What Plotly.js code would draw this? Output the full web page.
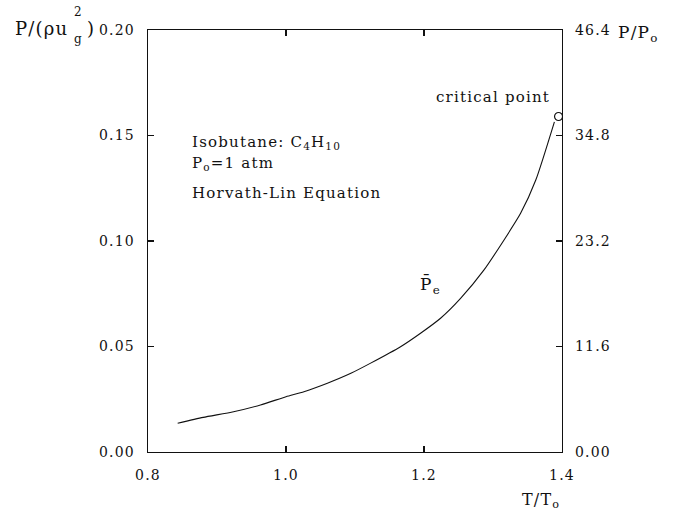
<!DOCTYPE html>
<html>
<head>
<meta charset="utf-8">
<script src="https://cdn.plot.ly/plotly-3.0.1.min.js"></script>
<style>
  html, body { margin: 0; padding: 0; background: #fff; }
  #chart { width: 679px; height: 512px; }
  svg text { letter-spacing: 1.2px; }
</style>
</head>
<body>
<div id="chart"></div>
<script>
// Reduced temperature T/To
const tempRatio = [0.843, 0.880, 0.924, 0.963, 1.000, 1.026, 1.060, 1.094, 1.122,
                   1.166, 1.195, 1.224, 1.253, 1.287, 1.316, 1.340, 1.362, 1.389];
// Equilibrium vapour pressure  P / (rho u_g^2)
const pressure = [0.0136, 0.0164, 0.0191, 0.0223, 0.0262, 0.0286, 0.0326, 0.0373, 0.0420,
                  0.0499, 0.0563, 0.0634, 0.0728, 0.0863, 0.1005, 0.1131, 0.1289, 0.1565];
// Critical point of isobutane
const criticalT = [1.395];
const criticalP = [0.159];

// Axis ticks
const xTicks = [0.8, 1.0, 1.2, 1.4];
const xTickText = ['0.8', '1.0', '1.2', '1.4'];
const yTicks = [0, 0.05, 0.10, 0.15, 0.20];
const yTickText = ['0.00', '0.05', '0.10', '0.15', '0.20'];
const y2Ticks = [0, 11.6, 23.2, 34.8, 46.4];
const y2TickText = ['0.00', '11.6', '23.2', '34.8', '46.4'];

const FONT = 'DejaVu Serif, serif';
const INK = '#111';

// plot-area geometry in pixels, for placing free text
const L = 148, R = 562, T = 30, B = 452;
const px = x => (x - L) / (R - L);
const py = y => (B - y) / (B - T);

function note(text, x, y, size, anchor) {
  return {
    text: text, xref: 'paper', yref: 'paper', x: px(x), y: py(y),
    xanchor: anchor || 'left', yanchor: 'middle', showarrow: false,
    borderpad: 0,
    font: { family: FONT, size: size, color: INK }
  };
}

const traces = [
  {
    x: tempRatio, y: pressure, type: 'scatter', mode: 'lines',
    line: { color: INK, width: 1.1, shape: 'spline', smoothing: 0.6 },
    hoverinfo: 'skip', showlegend: false
  },
  {
    x: criticalT, y: criticalP, type: 'scatter', mode: 'markers',
    marker: { symbol: 'circle-open', size: 8, color: INK, line: { width: 1.2, color: INK } },
    hoverinfo: 'skip', showlegend: false
  },
  {
    // right-hand scale P/Po (same heights, different units)
    x: [0.8], y: [0], yaxis: 'y2', type: 'scatter', mode: 'markers',
    marker: { opacity: 0 }, hoverinfo: 'skip', showlegend: false
  }
];

const layout = {
  width: 679, height: 512,
  margin: { l: L, r: 679 - R, t: T, b: 512 - B, pad: 0 },
  paper_bgcolor: '#fff', plot_bgcolor: '#fff',
  font: { family: FONT, size: 14, color: INK },
  showlegend: false,
  xaxis: {
    range: [0.8, 1.4], tickvals: xTicks, ticktext: xTickText,
    ticks: 'inside', ticklen: 6, tickwidth: 1.2, tickcolor: INK,
    showline: true, linecolor: INK, linewidth: 1.3, mirror: 'ticks',
    showgrid: false, zeroline: false,
    tickfont: { family: FONT, size: 14, color: INK }, ticklabelstandoff: 10
  },
  yaxis: {
    range: [0, 0.20], tickvals: yTicks, ticktext: yTickText,
    ticks: 'inside', ticklen: 6, tickwidth: 1.2, tickcolor: INK,
    showline: true, linecolor: INK, linewidth: 1.3, mirror: 'ticks',
    showgrid: false, zeroline: false,
    tickfont: { family: FONT, size: 14, color: INK }, ticklabelstandoff: 9
  },
  yaxis2: {
    range: [0, 46.4], tickvals: y2Ticks, ticktext: y2TickText,
    overlaying: 'y', side: 'right', ticks: '', showline: false,
    showgrid: false, zeroline: false,
    tickfont: { family: FONT, size: 14, color: INK }, ticklabelstandoff: 12
  },
  annotations: [
    // left axis title P/(rho u_g^2)
    note('P/(ρu', 14, 29, 18),
    note('2', 73, 12, 12),
    note('g', 73, 39, 12),
    note(')', 86, 29, 18),
    // right axis title
    note('P/P<sub>o</sub>', 617, 33, 17),
    // x axis title
    note('T/T<sub>o</sub>', 521, 500, 16),
    // descriptive text
    note('Isobutane: C<sub>4</sub>H<sub>10</sub>', 191, 142, 15),
    note('P<sub>o</sub>=1 atm', 191, 163, 15),
    note('Horvath-Lin Equation', 191, 193, 15),
    note('critical point', 435, 97, 15),
    note('P\u0304<sub>e</sub>', 419, 285, 17)
  ]
};

Plotly.newPlot('chart', traces, layout, { staticPlot: true, displayModeBar: false });
</script>
</body>
</html>
